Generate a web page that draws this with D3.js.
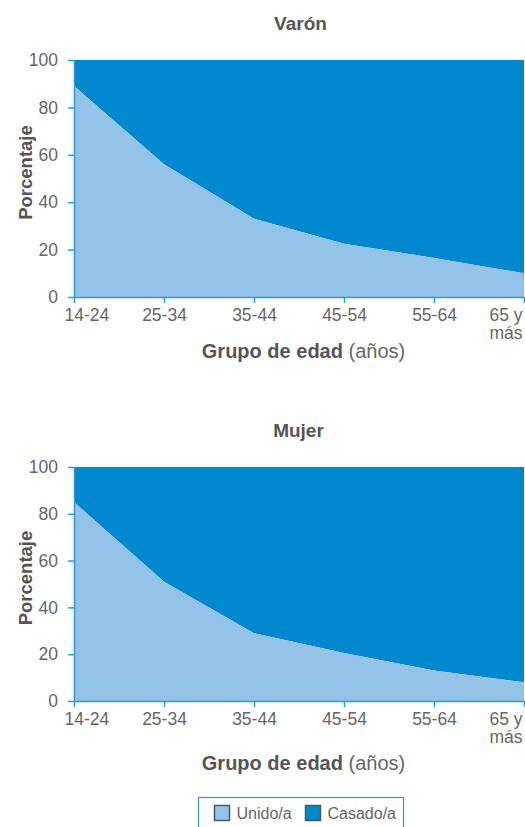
<!DOCTYPE html>
<html>
<head>
<meta charset="utf-8">
<script src="https://cdn.jsdelivr.net/npm/d3@7"></script>
<style>
  html, body { margin: 0; padding: 0; background: #fff; overflow: hidden; }
  svg { display: block; }
  text { font-family: "Liberation Sans", Arial, sans-serif; }
</style>
</head>
<body>
<svg id="chart" width="525" height="827"></svg>
<script>
// Age groups (x categories)
const ageGroups = ["14-24", "25-34", "35-44", "45-54", "55-64", "65 y más"];
// Share living as "Unido/a" (%) per age group; the remainder to 100 is "Casado/a"
const unidoVaron = [89, 56, 33, 22.5, 16.5, 10];
const unidoMujer = [85, 51, 29, 20.5, 13, 8];
const yTicks = [0, 20, 40, 60, 80, 100];
const seriesNames = ["Unido/a", "Casado/a"];

const colLight = "#93c3e8";
const colDark = "#0088cf";
const axisCol = "#2b9ad8";
const textCol = "#666666";
const titleCol = "#555555";

const svg = d3.select("#chart");

const x = d3.scalePoint().domain(ageGroups).range([74, 524]);

function drawPanel(p) {
  const { title, unido, top, bottom, titleY, xTitleY } = p;
  const y = d3.scaleLinear().domain([0, 100]).range([bottom, top]);
  const g = svg.append("g");
  const rows = ageGroups.map((a, i) => ({ age: a, unido: unido[i] }));

  // Casado/a: from the Unido/a share up to 100
  g.append("path")
    .datum(rows)
    .attr("fill", colDark)
    .attr("d", d3.area().x(d => x(d.age)).y0(d => y(d.unido)).y1(y(100)));
  // Unido/a: from 0 up to its share
  g.append("path")
    .datum(rows)
    .attr("fill", colLight)
    .attr("d", d3.area().x(d => x(d.age)).y0(y(0)).y1(d => y(d.unido)));

  // Y axis
  const ya = g.append("g").attr("transform", "translate(74,0)")
    .call(d3.axisLeft(y).tickValues(yTicks).tickSize(6).tickPadding(10).tickSizeOuter(0));
  ya.select(".domain").attr("stroke", axisCol).attr("stroke-width", 1.5);
  ya.selectAll(".tick line").attr("stroke", axisCol).attr("stroke-width", 1.5);
  ya.selectAll(".tick text").attr("fill", textCol).style("font-size", "17.5px")
    .style("font-family", "Liberation Sans, Arial, sans-serif");

  // X axis
  const xa = g.append("g").attr("transform", `translate(0,${bottom})`)
    .call(d3.axisBottom(x).tickSize(6).tickPadding(6).tickSizeOuter(0));
  xa.select(".domain").attr("stroke", axisCol).attr("stroke-width", 1.5);
  xa.selectAll(".tick line").attr("stroke", axisCol).attr("stroke-width", 1.5);
  xa.selectAll(".tick text").attr("fill", textCol).style("font-size", "17.5px")
    .style("font-family", "Liberation Sans, Arial, sans-serif")
    .each(function (d, i) {
      const t = d3.select(this);
      if (i === 0) {
        // first label starts just right of the axis corner
        t.attr("text-anchor", "start").attr("x", -10);
      }
      if (d === "65 y más") {
        // two-line label, right-aligned at the last tick
        t.text(null).attr("text-anchor", "end").attr("dy", null);
        t.append("tspan").attr("x", -2).attr("dy", "0.71em").text("65 y");
        t.append("tspan").attr("x", -2).attr("dy", "1em").text("más");
      }
    });

  // Panel title
  g.append("text")
    .attr("x", p.titleX).attr("y", titleY)
    .attr("text-anchor", "middle")
    .attr("fill", titleCol)
    .style("font-size", "19px").style("font-weight", "bold")
    .text(title);

  // Y axis title
  g.append("text")
    .attr("transform", `translate(32,${(top + bottom) / 2 - 6}) rotate(-90)`)
    .attr("text-anchor", "middle")
    .attr("fill", titleCol)
    .style("font-size", "18.5px").style("font-weight", "bold")
    .text("Porcentaje");

  // X axis title
  const xt = g.append("text")
    .attr("x", 303.5).attr("y", xTitleY)
    .attr("text-anchor", "middle")
    .attr("fill", titleCol)
    .style("font-size", "20px");
  xt.append("tspan").style("font-weight", "bold").text("Grupo de edad");
  xt.append("tspan").style("font-weight", "normal").attr("fill", textCol).text(" (años)");
}

drawPanel({ title: "Varón", unido: unidoVaron, top: 60, bottom: 297, titleY: 30, titleX: 300.5, xTitleY: 358 });
drawPanel({ title: "Mujer", unido: unidoMujer, top: 467, bottom: 701, titleY: 437, titleX: 298.5, xTitleY: 770 });

// Legend
const lg = svg.append("g");
lg.append("rect")
  .attr("x", 198.5).attr("y", 797.5).attr("width", 205).attr("height", 60)
  .attr("fill", "#fff").attr("stroke", axisCol).attr("stroke-width", 1.2);
const legendColors = [colLight, colDark];
const legendX = [214.5, 305.5];
seriesNames.forEach((n, i) => {
  lg.append("rect")
    .attr("x", legendX[i]).attr("y", 805.5).attr("width", 15).attr("height", 15)
    .attr("fill", legendColors[i]).attr("stroke", "#465865").attr("stroke-width", 1.5);
  lg.append("text")
    .attr("x", legendX[i] + 22).attr("y", 819)
    .attr("fill", textCol)
    .style("font-size", "16px")
    .text(n);
});
</script>
</body>
</html>
